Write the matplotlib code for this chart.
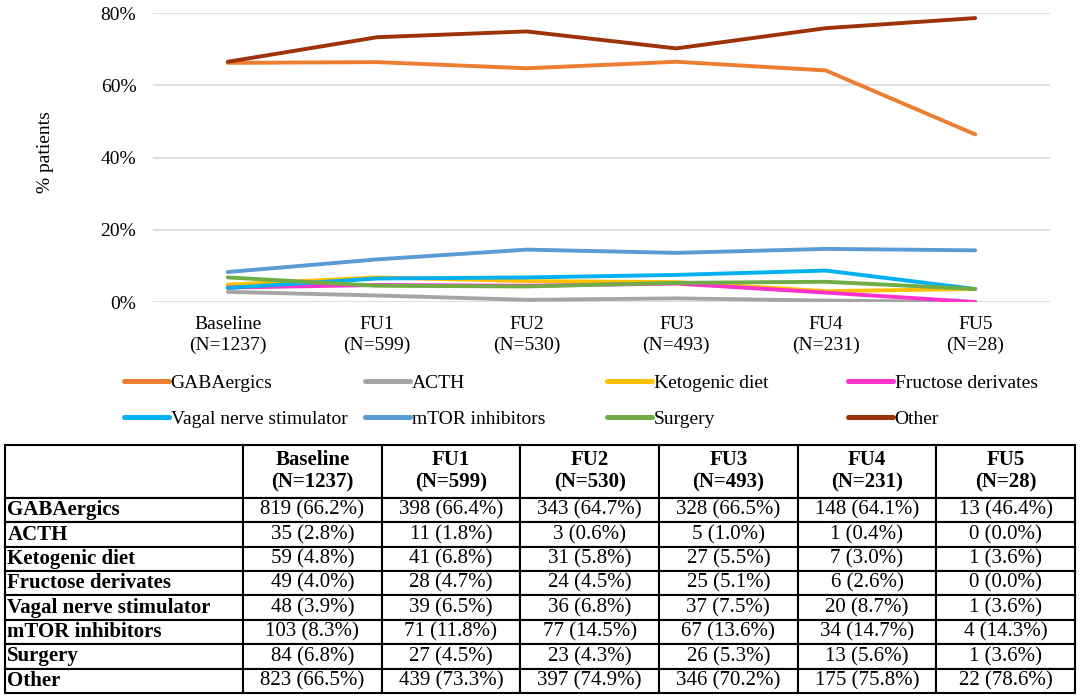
import matplotlib
matplotlib.use('Agg')
import matplotlib.pyplot as plt

plt.rcParams['font.family'] = ['Liberation Serif', 'DejaVu Serif']

# visits and their sizes
visits = ['Baseline', 'FU1', 'FU2', 'FU3', 'FU4', 'FU5']
n_pat = [1237, 599, 530, 493, 231, 28]

treatments = ['GABAergics', 'ACTH', 'Ketogenic diet', 'Fructose derivates',
              'Vagal nerve stimulator', 'mTOR inhibitors', 'Surgery', 'Other']

# counts per treatment
gaba_n = [819, 398, 343, 328, 148, 13]
acth_n = [35, 11, 3, 5, 1, 0]
keto_n = [59, 41, 31, 27, 7, 1]
fruct_n = [49, 28, 24, 25, 6, 0]
vagal_n = [48, 39, 36, 37, 20, 1]
mtor_n = [103, 71, 77, 67, 34, 4]
surg_n = [84, 27, 23, 26, 13, 1]
other_n = [823, 439, 397, 346, 175, 22]

# percentages per treatment (as printed in the table)
gaba_pct = [66.2, 66.4, 64.7, 66.5, 64.1, 46.4]
acth_pct = [2.8, 1.8, 0.6, 1.0, 0.4, 0.0]
keto_pct = [4.8, 6.8, 5.8, 5.5, 3.0, 3.6]
fruct_pct = [4.0, 4.7, 4.5, 5.1, 2.6, 0.0]
vagal_pct = [3.9, 6.5, 6.8, 7.5, 8.7, 3.6]
mtor_pct = [8.3, 11.8, 14.5, 13.6, 14.7, 14.3]
surg_pct = [6.8, 4.5, 4.3, 5.3, 5.6, 3.6]
other_pct = [66.5, 73.3, 74.9, 70.2, 75.8, 78.6]

counts = [gaba_n, acth_n, keto_n, fruct_n, vagal_n, mtor_n, surg_n, other_n]
pcts = [gaba_pct, acth_pct, keto_pct, fruct_pct, vagal_pct, mtor_pct, surg_pct, other_pct]
colors = ['#ED7D31', '#A5A5A5', '#FFC000', '#FF33CC',
          '#00B0F0', '#5B9BD5', '#70AD47', '#9E3209']

W, H = 1084, 697
fig = plt.figure(figsize=(W / 100, H / 100), dpi=100)

# ---- line chart
ax = fig.add_axes([153 / W, 1 - 302 / H, (1050 - 153) / W, (302 - 13) / H])
x = list(range(len(visits)))
lines = []
for name, p, c in zip(treatments, pcts, colors):
    ln, = ax.plot(x, p, color=c, lw=2.8, label=name, solid_capstyle='round',
                  solid_joinstyle='round')
    lines.append(ln)

ax.set_xlim(-0.5, len(visits) - 0.5)
ax.set_ylim(0, 80)
ax.set_yticks([0, 20, 40, 60, 80])
ax.set_yticklabels(['%d%%' % v for v in [0, 20, 40, 60, 80]], fontsize=14)
ax.set_xticks(x)
ax.set_xticklabels(['%s\n(N=%d)' % (v, n) for v, n in zip(visits, n_pat)],
                   fontsize=14, linespacing=1.3)
ax.tick_params(length=0, pad=10)
ax.tick_params(axis='y', pad=12)
ax.grid(axis='y', color='#D9D9D9', lw=1.2)
ax.set_axisbelow(True)
for s in ax.spines.values():
    s.set_visible(False)
fig.text(45 / W, 1 - 152 / H, '% patients', rotation=90, fontsize=14,
         ha='center', va='center')

# legend: 4 evenly spaced columns, filled row by row
col_x = [124, 365, 607, 848]
for i, cx in enumerate(col_x):
    hs = [lines[i], lines[i + 4]]
    leg = fig.legend(hs, [h.get_label() for h in hs], loc='upper left',
                     bbox_to_anchor=(cx / W, 1 - 374 / H), frameon=False,
                     fontsize=14, handlelength=2.3, handletextpad=0.1,
                     labelspacing=0.95, borderpad=0, borderaxespad=0)
    for h in leg.legend_handles:
        h.set_linewidth(3.6)

# ---- table
tax = fig.add_axes([5 / W, 1 - 693 / H, (1075 - 5) / W, (693 - 445) / H])
tax.axis('off')
header = [''] + ['%s\n(N=%d)' % (v, n) for v, n in zip(visits, n_pat)]
rows = []
for name, cn, p in zip(treatments, counts, pcts):
    rows.append([name] + ['%d (%.1f%%)' % (a, b) for a, b in zip(cn, p)])
tbl = tax.table(cellText=[header] + rows, bbox=[0, 0, 1, 1], cellLoc='center')
tbl.auto_set_font_size(False)
first_w = 238 / 1070
other_w = (1 - first_w) / 6
for (r, c), cell in tbl.get_celld().items():
    cell.set_width(first_w if c == 0 else other_w)
    cell.set_height(53 if r == 0 else 24.4)
    cell.set_linewidth(1.5)
    cell.set_edgecolor('black')
    t = cell.get_text()
    t.set_fontsize(15)
    if r == 0 or c == 0:
        t.set_fontweight('bold')
    if c == 0:
        cell.set_text_props(ha='left')
        cell.PAD = 0.01

fig.savefig('out.png', dpi=100)
